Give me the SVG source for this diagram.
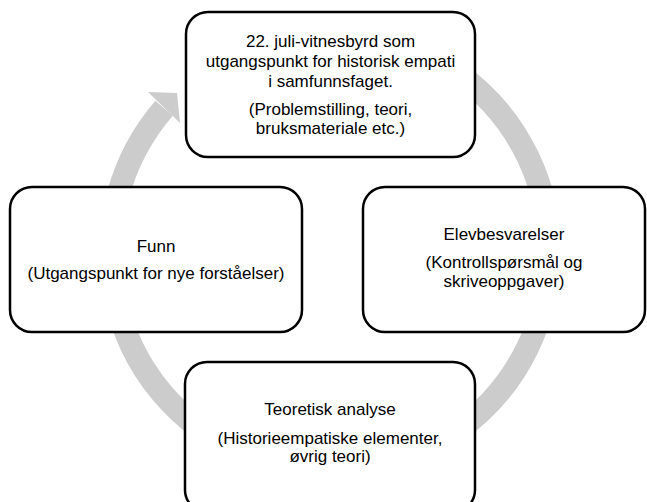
<svg xmlns="http://www.w3.org/2000/svg" width="647" height="502" viewBox="0 0 647 502">
  <style>
    .box { fill: #ffffff; stroke: #000000; stroke-width: 2.5; }
    .t { font-family: "Liberation Sans", Arial, sans-serif; font-size: 17px; fill: #000000; text-anchor: middle; }
    .ring { fill: none; stroke: #cccccc; stroke-width: 23; }
    .head { fill: #cccccc; }
  </style>
  <rect width="647" height="502" fill="#ffffff"/>
  <g id="connectors">
    <path class="ring" d="M 254.9 45.7 A 219.5 219.5 0 1 1 164.1 108.3"/>
    <polygon class="head" points="148,92 177,93 180,123"/>
  </g>
  <g id="node-top">
    <rect class="box" x="186" y="12" width="289" height="145" rx="22"/>
    <text class="t" x="330.5" y="46.5">22. juli-vitnesbyrd som</text>
    <text class="t" x="330.5" y="66.5">utgangspunkt for historisk empati</text>
    <text class="t" x="330.5" y="86.5">i samfunnsfaget.</text>
    <text class="t" x="330.5" y="115">(Problemstilling, teori,</text>
    <text class="t" x="330.5" y="134">bruksmateriale etc.)</text>
  </g>
  <g id="node-right">
    <rect class="box" x="363" y="187" width="282" height="145" rx="22"/>
    <text class="t" x="504" y="240">Elevbesvarelser</text>
    <text class="t" x="504" y="267.5">(Kontrollspørsmål og</text>
    <text class="t" x="504" y="286.5">skriveoppgaver)</text>
  </g>
  <g id="node-bottom">
    <rect class="box" x="185" y="362" width="290" height="150" rx="22"/>
    <text class="t" x="330" y="415">Teoretisk analyse</text>
    <text class="t" x="330" y="443.5">(Historieempatiske elementer,</text>
    <text class="t" x="330" y="462">øvrig teori)</text>
  </g>
  <g id="node-left">
    <rect class="box" x="10" y="187" width="292" height="145" rx="22"/>
    <text class="t" x="156" y="251.5">Funn</text>
    <text class="t" x="156" y="278.5">(Utgangspunkt for nye forståelser)</text>
  </g>
</svg>
